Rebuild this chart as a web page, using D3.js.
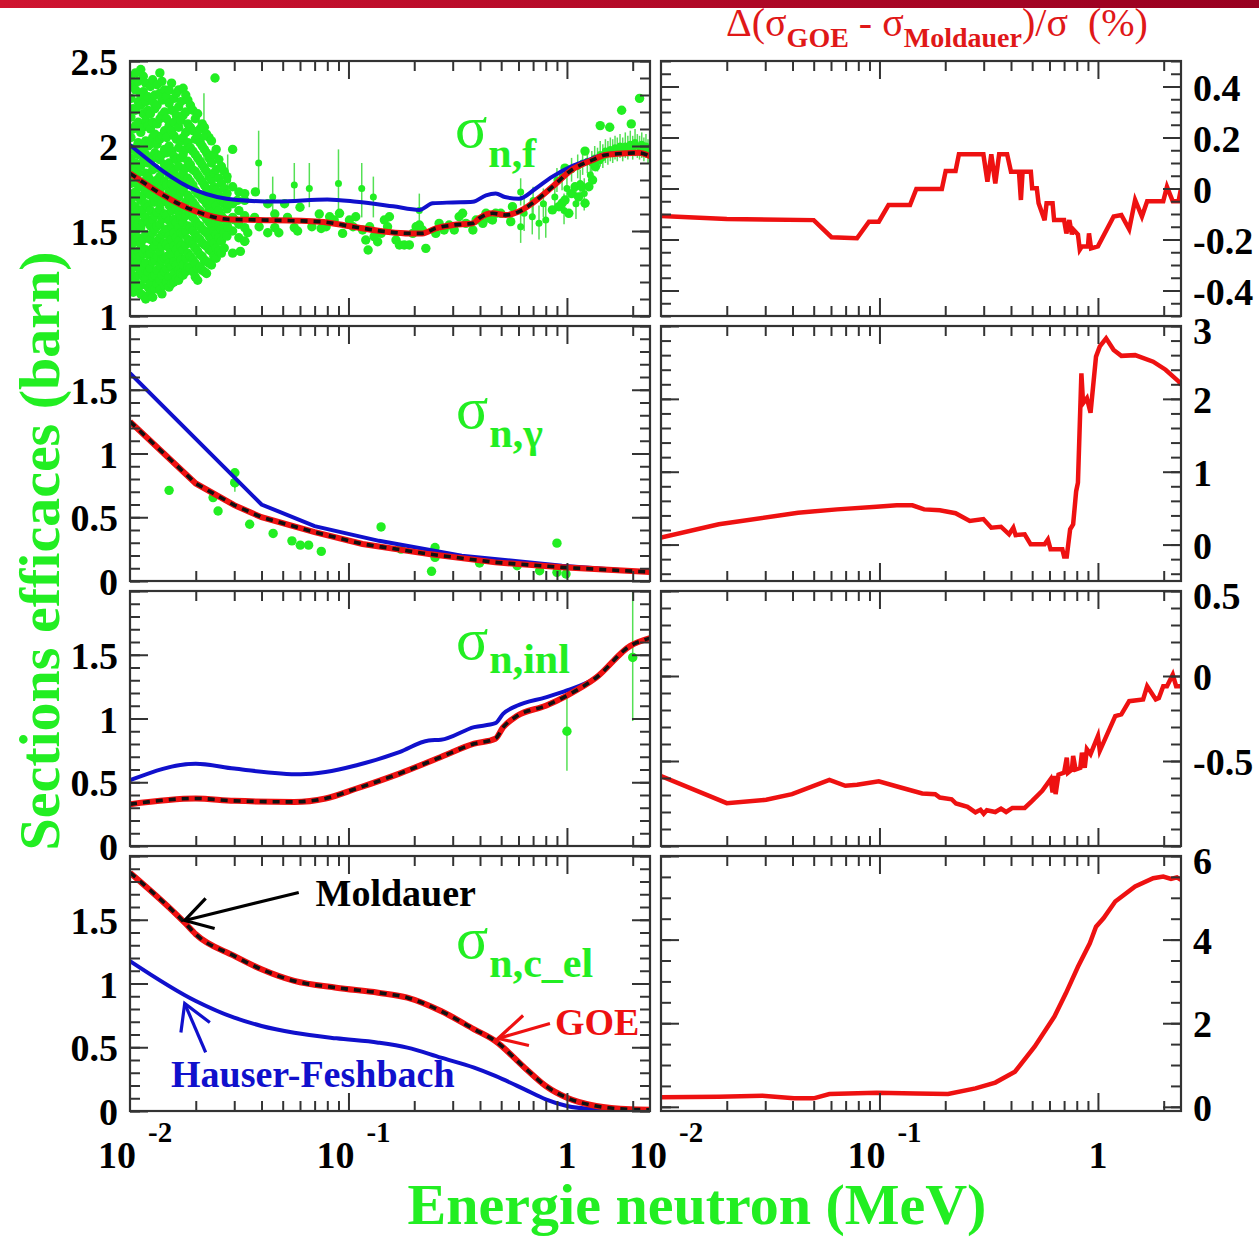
<!DOCTYPE html>
<html>
<head>
<meta charset="utf-8">
<script src="https://cdn.jsdelivr.net/npm/d3@7"></script>
<style>
  body { margin: 0; background: #fff; }
  svg { display: block; }
</style>
</head>
<body>
<svg id="chart" width="1259" height="1237"></svg>
<script>
// ---- data: energy in MeV, cross sections in barn, differences in % ----
const xMajor = [0.1, 1];
const xMinor = [0.02, 0.03, 0.04, 0.05, 0.06, 0.07, 0.08, 0.09, 0.2, 0.3, 0.4, 0.5, 0.6, 0.7, 0.8, 0.9, 2];

// fission
const fisHF = [[0.01,2.006],[0.0202,1.737],[0.031,1.682],[0.0474,1.673],[0.08,1.686],[0.109,1.672],[0.16,1.645],[0.211,1.624],[0.243,1.663],[0.30,1.668],[0.371,1.672],[0.426,1.71],[0.472,1.72],[0.52,1.70],[0.603,1.69],[0.72,1.75],[0.858,1.82],[1.05,1.88],[1.26,1.918],[1.45,1.947],[1.73,1.957],[2.13,1.957],[2.4,1.94]];
const fisGOE = [[0.01,1.839],[0.0202,1.614],[0.028,1.569],[0.039,1.565],[0.0738,1.555],[0.105,1.525],[0.149,1.496],[0.19,1.486],[0.218,1.486],[0.251,1.516],[0.30,1.535],[0.371,1.545],[0.397,1.575],[0.456,1.604],[0.524,1.594],[0.603,1.614],[0.694,1.663],[0.858,1.76],[1.05,1.859],[1.31,1.918],[1.50,1.947],[1.86,1.957],[2.13,1.96],[2.4,1.94]];
const fisCloud = [
  [0.0101, [2.40,2.28,2.17,2.05,1.93,1.86,1.78,1.69,1.61,1.55,1.47,1.40,1.33,1.25,1.16]],
  [0.01035, [2.35,2.22,2.10,1.98,1.88,1.80,1.72,1.65,1.58,1.51,1.43,1.37,1.30,1.21,1.14]],
  [0.0106, [2.43,2.33,2.21,2.12,1.99,1.90,1.81,1.73,1.64,1.57,1.50,1.44,1.36,1.29,1.20]],
  [0.0109, [2.38,2.26,2.14,2.02,1.95,1.84,1.77,1.70,1.62,1.54,1.46,1.38,1.32,1.24,1.17]],
  [0.0112, [2.45,2.30,2.24,2.08,1.97,1.88,1.76,1.68,1.60,1.52,1.42,1.35,1.27,1.18,1.13]],
  [0.0115, [2.41,2.32,2.19,2.11,1.99,1.91,1.79,1.71,1.63,1.55,1.45,1.37,1.29,1.23,1.12]],
  [0.0118, [2.37,2.26,2.15,2.03,1.95,1.84,1.74,1.66,1.58,1.48,1.39,1.31,1.22,1.10]],
  [0.0121, [2.29,2.21,2.12,2.00,1.90,1.82,1.73,1.64,1.55,1.47,1.36,1.26,1.17]],
  [0.0124, [2.35,2.19,2.10,2.01,1.91,1.80,1.71,1.62,1.53,1.45,1.37,1.28,1.19,1.14]],
  [0.0127, [2.39,2.26,2.14,2.05,1.94,1.86,1.75,1.67,1.57,1.49,1.40,1.32,1.23,1.11]],
  [0.0130, [2.30,2.22,2.07,1.96,1.87,1.77,1.67,1.59,1.51,1.41,1.33,1.24,1.16]],
  [0.0133, [2.36,2.24,2.13,2.01,1.93,1.80,1.70,1.61,1.53,1.44,1.35,1.27,1.19]],
  [0.0137, [2.43,2.31,2.16,2.04,1.92,1.82,1.72,1.63,1.54,1.46,1.38,1.30,1.21,1.15]],
  [0.0140, [2.38,2.27,2.18,2.06,1.95,1.85,1.76,1.67,1.57,1.48,1.41,1.33,1.24,1.13]],
  [0.0144, [2.33,2.20,2.09,1.98,1.89,1.79,1.69,1.60,1.50,1.43,1.34,1.26,1.18]],
  [0.0147, [2.29,2.16,2.05,1.96,1.86,1.77,1.68,1.59,1.51,1.42,1.35,1.28,1.20]],
  [0.0151, [2.33,2.25,2.12,2.00,1.90,1.83,1.73,1.65,1.56,1.47,1.40,1.31,1.23,1.17]],
  [0.0155, [2.37,2.21,2.09,1.97,1.87,1.78,1.69,1.62,1.53,1.45,1.36,1.29,1.19]],
  [0.0159, [2.28,2.14,2.06,1.94,1.85,1.75,1.66,1.57,1.49,1.41,1.32,1.25,1.20]],
  [0.0163, [2.31,2.18,2.04,1.92,1.82,1.72,1.63,1.55,1.46,1.39,1.30,1.22]],
  [0.0167, [2.33,2.23,2.11,1.99,1.88,1.78,1.70,1.61,1.52,1.44,1.36,1.27,1.21]],
  [0.0171, [2.26,2.15,2.03,1.93,1.81,1.73,1.64,1.57,1.49,1.41,1.33,1.25]],
  [0.0175, [2.34,2.18,2.05,1.95,1.84,1.74,1.64,1.55,1.48,1.39,1.30,1.24]],
  [0.0180, [2.30,2.20,2.08,1.98,1.87,1.77,1.67,1.59,1.50,1.42,1.34,1.26]],
  [0.0184, [2.27,2.13,2.02,1.91,1.81,1.71,1.62,1.53,1.45,1.37,1.29]],
  [0.0189, [2.24,2.11,1.99,1.89,1.79,1.69,1.60,1.52,1.44,1.35,1.28]],
  [0.0194, [2.21,2.09,1.97,1.86,1.77,1.67,1.58,1.50,1.42,1.33,1.26]],
  [0.0199, [2.16,2.04,1.95,1.85,1.74,1.65,1.56,1.48,1.40,1.31,1.23]],
  [0.0204, [2.19,2.06,1.93,1.83,1.72,1.63,1.54,1.46,1.38,1.28,1.21]],
  [0.0209, [2.10,2.02,1.91,1.81,1.71,1.62,1.53,1.45,1.36,1.29]],
  [0.0214, [2.13,2.00,1.89,1.79,1.69,1.60,1.51,1.43,1.35,1.27]],
  [0.0219, [2.11,1.98,1.87,1.77,1.68,1.59,1.50,1.42,1.33,1.26]],
  [0.0224, [2.07,1.96,1.85,1.75,1.66,1.57,1.49,1.41,1.32,1.25]],
  [0.0230, [2.05,1.93,1.82,1.72,1.63,1.55,1.47,1.39,1.31]],
  [0.0236, [2.03,1.90,1.80,1.70,1.61,1.53,1.45,1.38,1.30]],
  [0.0242, [1.95,1.84,1.76,1.67,1.58,1.50,1.43,1.35]],
  [0.0248, [1.98,1.86,1.74,1.65,1.56,1.48,1.40,1.34]],
  [0.0255, [1.92,1.81,1.71,1.62,1.53,1.46,1.38]],
  [0.0262, [1.88,1.78,1.68,1.59,1.51,1.44,1.37]],
  [0.0270, [1.85,1.75,1.66,1.57,1.49,1.40]],
  [0.0278, [1.82,1.72,1.63,1.55,1.47]],
  [0.0295, [1.98,1.76,1.66,1.58,1.50,1.37]],
  [0.0315, [1.73,1.62,1.54,1.46]],
  [0.0335, [1.68,1.59,1.52,1.44]]
];
const fisMid = [[0.0245,2.40],[0.031,1.68],[0.0335,1.72],[0.0375,1.73],[0.0427,1.66],[0.046,1.52],[0.051,1.66],[0.0565,1.52],[0.060,1.64],[0.068,1.525],[0.075,1.515],[0.039,1.525],[0.0427,1.49],[0.0346,1.49],[0.0335,1.44],[0.032,1.38],[0.0372,1.58],[0.046,1.60],[0.0526,1.58],[0.028,1.525],[0.026,1.58],[0.028,1.66],[0.0302,1.565],[0.048,1.49],[0.0585,1.50],[0.0735,1.60],
  [0.079,1.525],[0.082,1.584],[0.086,1.565],[0.091,1.604],[0.094,1.486],[0.101,1.565],[0.105,1.525],[0.108,1.584],[0.116,1.506],[0.120,1.447],[0.125,1.525],[0.123,1.388],[0.131,1.467],[0.136,1.437],[0.141,1.486],[0.146,1.565],[0.154,1.584],[0.151,1.525],[0.165,1.447],[0.171,1.418],[0.180,1.418],[0.190,1.418],[0.197,1.486],[0.204,1.525],[0.211,1.535],[0.218,1.506],[0.226,1.398],[0.251,1.486],[0.260,1.545],[0.274,1.506],[0.289,1.535],[0.305,1.506],[0.321,1.584],[0.333,1.604],[0.345,1.545],[0.371,1.506],[0.384,1.565],[0.412,1.545],[0.426,1.604],[0.440,1.575],[0.456,1.565],[0.472,1.604],[0.498,1.604],[0.553,1.555],[0.563,1.643],
  [0.858,1.624],[0.919,1.643],[0.95,1.663],[0.98,1.682],[1.02,1.604],[1.05,1.72],[1.09,1.76],[1.13,1.70],[1.17,1.76],[1.21,1.663],[1.26,1.76],[1.31,1.80],[1.35,1.878],[1.40,1.918],[1.45,1.937],
  [1.42,2.12],[1.57,2.11],[1.78,2.21],[1.97,2.13],[2.15,2.28],[1.21,1.97],[0.98,1.87]];
// [E, value, low, high]
const fisBars = [[0.0218,2.055,1.878,2.31],[0.028,1.80,1.68,1.95],[0.0388,1.90,1.72,2.09],[0.045,1.70,1.60,1.82],[0.0565,1.77,1.68,1.90],[0.0662,1.75,1.64,1.90],
  [0.090,1.78,1.58,1.98],[0.115,1.75,1.58,1.90],[0.130,1.70,1.58,1.82],[0.211,1.62,1.51,1.72],
  [0.614,1.525,1.43,1.62],[0.637,1.604,1.50,1.70],[0.694,1.584,1.48,1.68],[0.745,1.545,1.45,1.65],[0.80,1.565,1.46,1.67],[0.614,1.73,1.65,1.81],[0.70,1.68,1.60,1.76],[0.78,1.66,1.58,1.75],[0.88,1.70,1.61,1.79],[0.97,1.62,1.54,1.72],[1.0,1.75,1.66,1.83],[1.1,1.66,1.57,1.75],[1.15,1.78,1.70,1.86],[1.2,1.72,1.62,1.81],[1.28,1.83,1.75,1.92],
  [0.90,1.80,1.73,1.87],[0.95,1.82,1.74,1.89],[1.05,1.86,1.79,1.93],[1.12,1.88,1.81,1.95],[1.18,1.90,1.83,1.97],[1.24,1.91,1.84,1.98],
  [1.30,1.90,1.84,1.97],[1.34,1.93,1.86,2.00],[1.38,1.92,1.85,1.99],[1.42,1.95,1.88,2.03],[1.46,1.94,1.87,2.01],[1.50,1.97,1.90,2.04],[1.54,1.96,1.89,2.03],[1.58,1.98,1.91,2.05],[1.62,1.97,1.90,2.04],[1.66,1.99,1.92,2.06],[1.70,1.98,1.91,2.05],[1.75,2.00,1.93,2.07],[1.80,1.98,1.91,2.05],[1.85,2.00,1.93,2.08],[1.90,1.99,1.92,2.06],[1.95,2.01,1.94,2.09],[2.00,1.99,1.92,2.06],[2.05,2.02,1.94,2.10],[2.10,2.00,1.93,2.07],[2.15,1.99,1.92,2.06],[2.20,2.01,1.93,2.08],[2.25,1.98,1.91,2.05],[2.30,2.00,1.93,2.07],[2.35,1.97,1.90,2.04]];

// capture
const capHF = [[0.01,1.63],[0.04,0.60],[0.07,0.43],[0.138,0.315],[0.33,0.198],[0.95,0.12],[2.4,0.068]];
const capGOE = [[0.01,1.25],[0.02,0.765],[0.03,0.595],[0.04,0.50],[0.07,0.383],[0.116,0.29],[0.234,0.211],[0.47,0.146],[0.95,0.107],[2.4,0.07]];
const capExp = [[0.0151,0.711],[0.0240,0.654],[0.0253,0.549],[0.0302,0.849],[0.0302,0.771],[0.0353,0.445],[0.0452,0.373],[0.0551,0.315],[0.0602,0.281],[0.0657,0.281],[0.0751,0.232],[0.141,0.424],[0.174,0.25],[0.249,0.263],[0.249,0.185],[0.24,0.076],[0.398,0.141],[0.592,0.12],[0.75,0.08],[0.90,0.297],[0.90,0.068],[0.99,0.055]];
const capBars = [[0.0302,0.771,0.70,0.88]];

// inelastic
const inlHF = [[0.01,0.516],[0.02,0.646],[0.03,0.607],[0.0604,0.5625],[0.0785,0.58],[0.109,0.633],[0.171,0.737],[0.233,0.828],[0.265,0.833],[0.376,0.932],[0.47,0.963],[0.51,1.036],[0.59,1.10],[0.80,1.166],[1.0,1.22],[1.36,1.32],[1.95,1.57],[2.4,1.63]];
const inlGOE = [[0.01,0.328],[0.02,0.373],[0.03,0.354],[0.0565,0.346],[0.0785,0.373],[0.109,0.451],[0.171,0.568],[0.265,0.698],[0.376,0.802],[0.47,0.841],[0.51,0.93],[0.59,1.02],[0.80,1.10],[1.0,1.18],[1.36,1.32],[1.95,1.57],[2.4,1.63]];
const inlBars = [[1.0,0.90,0.59,1.19],[2.0,1.479,0.98,2.0]];

// compound elastic
const celHF = [[0.01,1.176],[0.02,0.863],[0.03,0.732],[0.04,0.667],[0.0565,0.614],[0.088,0.57],[0.137,0.536],[0.186,0.497],[0.265,0.418],[0.376,0.34],[0.47,0.275],[0.64,0.17],[0.80,0.092],[1.0,0.039],[1.36,0.013],[2.4,0.0]];
const celGOE = [[0.01,1.869],[0.0178,1.477],[0.02,1.386],[0.03,1.216],[0.04,1.111],[0.0565,1.02],[0.088,0.967],[0.137,0.928],[0.186,0.889],[0.265,0.784],[0.376,0.641],[0.47,0.549],[0.64,0.34],[0.80,0.196],[1.0,0.104],[1.36,0.039],[1.95,0.013],[2.4,0.01]];

// relative difference GOE - Moldauer (%)
const dFis = [[0.01,-0.108],[0.02,-0.12],[0.05,-0.124],[0.0603,-0.191],[0.0789,-0.195],[0.0895,-0.13],[0.0993,-0.13],[0.110,-0.065],[0.138,-0.065],[0.1475,-0.002],[0.193,-0.002],[0.201,0.069],[0.223,0.069],[0.231,0.134],[0.299,0.134],[0.312,0.027],[0.325,0.134],[0.339,0.02],[0.353,0.134],[0.384,0.134],[0.40,0.066],[0.435,0.066],[0.444,-0.045],[0.452,0.066],[0.493,0.066],[0.50,0.001],[0.525,0.001],[0.535,-0.058],[0.57,-0.124],[0.582,-0.058],[0.62,-0.058],[0.63,-0.124],[0.70,-0.124],[0.717,-0.176],[0.74,-0.124],[0.76,-0.18],[0.77,-0.16],[0.81,-0.18],[0.826,-0.24],[0.845,-0.227],[0.90,-0.227],[0.91,-0.176],[0.93,-0.235],[1.0,-0.227],[1.18,-0.11],[1.28,-0.104],[1.39,-0.16],[1.48,-0.045],[1.59,-0.11],[1.68,-0.05],[1.99,-0.05],[2.07,0.007],[2.20,-0.05],[2.34,-0.05],[2.4,0.0]];
const dCap = [[0.01,0.096],[0.0184,0.278],[0.0424,0.438],[0.064,0.483],[0.097,0.52],[0.12,0.538],[0.1415,0.538],[0.160,0.483],[0.189,0.47],[0.223,0.43],[0.259,0.323],[0.299,0.35],[0.325,0.232],[0.36,0.245],[0.392,0.141],[0.41,0.232],[0.42,0.13],[0.462,0.141],[0.492,0.004],[0.57,0.004],[0.59,0.07],[0.607,-0.064],[0.687,-0.064],[0.70,-0.164],[0.72,-0.164],[0.746,0.21],[0.77,0.278],[0.795,0.733],[0.81,0.85],[0.84,2.35],[0.855,1.94],[0.89,2.01],[0.925,1.81],[0.98,2.58],[1.02,2.72],[1.09,2.83],[1.18,2.67],[1.28,2.59],[1.48,2.60],[1.79,2.51],[2.04,2.40],[2.34,2.24],[2.4,2.19]];
const dInl = [[0.01,-0.588],[0.020,-0.748],[0.0303,-0.728],[0.0398,-0.695],[0.059,-0.611],[0.0698,-0.646],[0.079,-0.64],[0.0993,-0.619],[0.125,-0.656],[0.157,-0.691],[0.18,-0.695],[0.189,-0.715],[0.214,-0.725],[0.224,-0.75],[0.253,-0.77],[0.275,-0.802],[0.29,-0.787],[0.30,-0.81],[0.31,-0.79],[0.339,-0.80],[0.36,-0.78],[0.38,-0.80],[0.406,-0.776],[0.462,-0.776],[0.50,-0.734],[0.556,-0.675],[0.607,-0.607],[0.62,-0.685],[0.63,-0.588],[0.64,-0.695],[0.66,-0.58],[0.70,-0.568],[0.72,-0.48],[0.73,-0.568],[0.76,-0.55],[0.77,-0.47],[0.79,-0.55],[0.83,-0.54],[0.845,-0.451],[0.87,-0.54],[0.89,-0.431],[0.925,-0.46],[1.0,-0.353],[1.02,-0.44],[1.20,-0.236],[1.28,-0.226],[1.39,-0.148],[1.61,-0.138],[1.68,-0.06],[1.84,-0.138],[1.90,-0.13],[1.99,-0.06],[2.07,-0.06],[2.20,0.008],[2.28,-0.06],[2.4,-0.06]];
const dCel = [[0.01,0.227],[0.0184,0.24],[0.0291,0.266],[0.0406,0.203],[0.05,0.203],[0.059,0.305],[0.097,0.337],[0.147,0.32],[0.206,0.305],[0.275,0.442],[0.339,0.58],[0.417,0.84],[0.513,1.44],[0.632,2.16],[0.714,2.72],[0.81,3.35],[0.918,3.91],[0.98,4.31],[1.06,4.51],[1.20,4.91],[1.48,5.27],[1.79,5.47],[1.99,5.51],[2.16,5.45],[2.3,5.49],[2.4,5.43]];

// axis tick labels
const leftLabels = [[1, 1.5, 2, 2.5], [0, 0.5, 1, 1.5], [0, 0.5, 1, 1.5], [0, 0.5, 1, 1.5]];
const rightLabels = [[-0.4, -0.2, 0, 0.2, 0.4], [0, 1, 2, 3], [-0.5, 0, 0.5], [0, 2, 4, 6]];

// ---- layout ----
const svg = d3.select("#chart");
const W = 1259;
const serif = "'Liberation Serif', 'Times New Roman', serif";
const green = "#22ee22";
const red = "#ee1111";
const blue = "#1010cc";

const rowTops = [61, 326, 591, 856];
const rowH = 255;
const xL = d3.scaleLog().domain([0.01, 2.4]).range([130, 650]);
const xR = d3.scaleLog().domain([0.01, 2.4]).range([661, 1181]);

const leftCfg = [
  { dom: [1, 2.5], major: 0.5, minor: 0.1, curve: d3.curveMonotoneX },
  { dom: [0, 2], major: 0.5, minor: 0.1, curve: d3.curveLinear },
  { dom: [0, 2], major: 0.5, minor: 0.1, curve: d3.curveMonotoneX },
  { dom: [0, 2], major: 0.5, minor: 0.1, curve: d3.curveMonotoneX }
];
const rightCfg = [
  { dom: [-0.5, 0.5], majors: [-0.4, -0.2, 0, 0.2, 0.4], minor: 0.05 },
  { dom: [-0.5, 3], majors: [0, 1, 2, 3], minor: 0.2 },
  { dom: [-1, 0.5], majors: [-1, -0.5, 0, 0.5], minor: 0.1 },
  { dom: [-0.1, 6], majors: [0, 2, 4, 6], minor: 0.5 }
];

// header bar
const defs = svg.append("defs");
const grad = defs.append("linearGradient").attr("id", "hdr");
grad.append("stop").attr("offset", "0%").attr("stop-color", "#cf1430");
grad.append("stop").attr("offset", "100%").attr("stop-color", "#980020");
svg.append("rect").attr("x", 0).attr("y", 0).attr("width", W).attr("height", 8).attr("fill", "url(#hdr)");

function rangeTicks(lo, hi, step) {
  const out = [];
  for (let i = Math.ceil(lo / step - 1e-6); i * step <= hi + 1e-6; i++) out.push(+(i * step).toFixed(4));
  return out;
}

function drawAxes(x, y, yMajor, yMinor, labelVals, side) {
  const [x0, x1] = x.range();
  const [yb, yt] = y.range();
  const top = y.domain()[1];
  const g = svg.append("g");
  const fmt = (v) => labelVals.some((l) => Math.abs(l - v) < 1e-6) ? String(+v.toFixed(2)) : "";
  [[d3.axisLeft, x0, side === "left"], [d3.axisRight, x1, side === "right"]].forEach(([ax, px, lab]) => {
    g.append("g").attr("transform", `translate(${px},0)`)
      .call(ax(y).tickValues(yMinor).tickSize(-10).tickFormat(""));
    g.append("g").attr("transform", `translate(${px},0)`)
      .call(ax(y).tickValues(yMajor).tickSize(-18).tickPadding(12).tickFormat(lab ? fmt : () => ""));
  });
  [[d3.axisTop, yt], [d3.axisBottom, yb]].forEach(([ax, py]) => {
    g.append("g").attr("transform", `translate(0,${py})`)
      .call(ax(x).tickValues(xMinor).tickSize(-10).tickFormat(""));
    g.append("g").attr("transform", `translate(0,${py})`)
      .call(ax(x).tickValues(xMajor).tickSize(-18).tickFormat(""));
  });
  g.selectAll(".domain").remove();
  g.selectAll(".tick line").attr("stroke", "#333").attr("stroke-width", 2);
  // labels sitting on the top edge of a right-hand panel are pushed down a little, as in the original
  g.selectAll(".tick text").attr("font-family", serif).attr("font-size", 38)
    .attr("font-weight", "bold").attr("fill", "#000")
    .attr("dy", (d) => (side === "right" && Math.abs(d - top) < 1e-6) ? "0.45em" : "0.36em");
  g.append("rect").attr("x", x0).attr("y", yt).attr("width", x1 - x0).attr("height", yb - yt)
    .attr("fill", "none").attr("stroke", "#333").attr("stroke-width", 2.2);
}

function panelLayer(id, x, y) {
  const [x0, x1] = x.range();
  const [yb, yt] = y.range();
  defs.append("clipPath").attr("id", id).append("rect")
    .attr("x", x0).attr("y", yt).attr("width", x1 - x0).attr("height", yb - yt);
  return svg.append("g").attr("clip-path", `url(#${id})`);
}

function drawModels(layer, x, y, hf, goe, curve) {
  const line = d3.line().curve(curve).x((d) => x(d[0])).y((d) => y(d[1]));
  layer.append("path").datum(hf).attr("d", line).attr("fill", "none").attr("stroke", blue).attr("stroke-width", 4);
  layer.append("path").datum(goe).attr("d", line).attr("fill", "none").attr("stroke", red).attr("stroke-width", 6);
  // Moldauer coincides with GOE at this scale: black dashes over the red line
  layer.append("path").datum(goe).attr("d", line).attr("fill", "none").attr("stroke", "#111")
    .attr("stroke-width", 3.6).attr("stroke-dasharray", "7,6");
}

function drawExp(layer, x, y, pts, bars, rBar) {
  layer.selectAll(null).data(bars).join("line")
    .attr("x1", (d) => x(d[0])).attr("x2", (d) => x(d[0]))
    .attr("y1", (d) => y(d[2])).attr("y2", (d) => y(d[3]))
    .attr("stroke", "#55e055").attr("stroke-width", 1.5);
  layer.selectAll(null).data(pts).join("circle")
    .attr("cx", (d) => x(d[0])).attr("cy", (d) => y(d[1])).attr("r", 4.7).attr("fill", green);
  layer.selectAll(null).data(bars).join("circle")
    .attr("cx", (d) => x(d[0])).attr("cy", (d) => y(d[1])).attr("r", rBar).attr("fill", green);
}

const yLeft = leftCfg.map((c, i) => d3.scaleLinear().domain(c.dom).range([rowTops[i] + rowH, rowTops[i]]));
const yRight = rightCfg.map((c, i) => d3.scaleLinear().domain(c.dom).range([rowTops[i] + rowH, rowTops[i]]));

const fisPts = fisCloud.flatMap(([e, vs]) => vs.map((v) => [e, v])).concat(fisMid);
const leftData = [
  { hf: fisHF, goe: fisGOE, pts: fisPts, bars: fisBars, rBar: 3.5 },
  { hf: capHF, goe: capGOE, pts: capExp, bars: capBars, rBar: 4.7 },
  { hf: inlHF, goe: inlGOE, pts: [], bars: inlBars, rBar: 4.7 },
  { hf: celHF, goe: celGOE, pts: [], bars: [], rBar: 4.7 }
];
const rightData = [dFis, dCap, dInl, dCel];

leftData.forEach((d, i) => {
  const y = yLeft[i];
  const c = leftCfg[i];
  const layer = panelLayer(`clipL${i}`, xL, y);
  drawExp(layer, xL, y, d.pts, d.bars, d.rBar);
  drawModels(layer, xL, y, d.hf, d.goe, c.curve);
  drawAxes(xL, y, rangeTicks(c.dom[0], c.dom[1], c.major), rangeTicks(c.dom[0], c.dom[1], c.minor), leftLabels[i], "left");
});

rightData.forEach((d, i) => {
  const y = yRight[i];
  const c = rightCfg[i];
  const layer = panelLayer(`clipR${i}`, xR, y);
  layer.append("path").datum(d)
    .attr("d", d3.line().x((p) => xR(p[0])).y((p) => y(p[1])))
    .attr("fill", "none").attr("stroke", red).attr("stroke-width", 4.5);
  drawAxes(xR, y, c.majors, rangeTicks(c.dom[0], c.dom[1], c.minor), rightLabels[i], "right");
});

// reaction labels
const sigmaLabels = [
  { sub: "n,f", x: 455, y: 147, dy: 20 },
  { sub: "n,\u03b3", x: 456, y: 428, dy: 19 },
  { sub: "n,inl", x: 456, y: 659, dy: 14 },
  { sub: "n,c_el", x: 456, y: 958, dy: 19 }
];
sigmaLabels.forEach((s) => {
  const t = svg.append("text").attr("x", s.x).attr("y", s.y).attr("fill", green).attr("font-family", serif);
  t.append("tspan").attr("font-size", 60).text("\u03c3");
  t.append("tspan").attr("font-size", 42).attr("font-weight", "bold").attr("dx", 1).attr("dy", s.dy).text(s.sub);
});

// annotations in the compound elastic panel (data coordinates)
const yC = yLeft[3];
const arrows = [
  { color: "#000", pts: [[0.0592, 1.714], [0.0178, 1.494]], head: [[0.0222, 1.667], [0.0178, 1.494], [0.0244, 1.431]] },
  { color: red, pts: [[0.836, 0.686], [0.484, 0.569]], head: [[0.630, 0.749], [0.484, 0.569], [0.670, 0.514]] },
  { color: blue, pts: [[0.0222, 0.459], [0.0178, 0.843]], head: [[0.0171, 0.616], [0.0178, 0.843], [0.0232, 0.694]] }
];
const aline = d3.line().x((d) => xL(d[0])).y((d) => yC(d[1]));
arrows.forEach((a) => {
  svg.append("path").attr("d", aline(a.pts)).attr("stroke", a.color).attr("stroke-width", 3.2).attr("fill", "none");
  svg.append("path").attr("d", aline(a.head)).attr("stroke", a.color).attr("stroke-width", 3.2).attr("fill", "none");
});
const notes = [
  { text: "Moldauer", color: "#000", at: [0.0707, 1.604] },
  { text: "GOE", color: red, at: [0.881, 0.60] },
  { text: "Hauser-Feshbach", color: blue, at: [0.0154, 0.192] }
];
notes.forEach((n) => {
  svg.append("text").attr("x", xL(n.at[0])).attr("y", yC(n.at[1])).attr("fill", n.color)
    .attr("font-family", serif).attr("font-size", 38).attr("font-weight", "bold").text(n.text);
});

// x tick labels
const xLabelY = 1168;
[xL, xR].forEach((x) => {
  [[0.01, "-2"], [0.1, "-1"]].forEach(([v, ex]) => {
    svg.append("text").attr("x", x(v) + 6).attr("y", xLabelY).attr("text-anchor", "end")
      .attr("font-family", serif).attr("font-size", 38).attr("font-weight", "bold").text("10");
    svg.append("text").attr("x", x(v) + 18).attr("y", xLabelY - 26)
      .attr("font-family", serif).attr("font-size", 29).attr("font-weight", "bold").text(ex);
  });
  svg.append("text").attr("x", x(1)).attr("y", xLabelY).attr("text-anchor", "middle")
    .attr("font-family", serif).attr("font-size", 38).attr("font-weight", "bold").text("1");
});

// axis titles
svg.append("text").attr("x", 697).attr("y", 1224).attr("text-anchor", "middle")
  .attr("font-family", serif).attr("font-size", 58).attr("font-weight", "bold").attr("fill", green)
  .text("Energie neutron (MeV)");
svg.append("text").attr("transform", "translate(59,551) rotate(-90)").attr("text-anchor", "middle")
  .attr("font-family", serif).attr("font-size", 58).attr("font-weight", "bold").attr("fill", green)
  .text("Sections efficaces (barn)");

// right column title
const title = svg.append("text").attr("x", 726).attr("y", 36).attr("fill", "#e01818")
  .attr("font-family", serif).attr("font-size", 40).attr("xml:space", "preserve");
title.append("tspan").text("\u0394(\u03c3");
title.append("tspan").attr("font-size", 28).attr("font-weight", "bold").attr("dy", 11).text("GOE");
title.append("tspan").attr("dy", -11).text(" - \u03c3");
title.append("tspan").attr("font-size", 28).attr("font-weight", "bold").attr("dy", 11).text("Moldauer");
title.append("tspan").attr("dy", -11).text(")/\u03c3\u00a0 (%)");
</script>
</body>
</html>
